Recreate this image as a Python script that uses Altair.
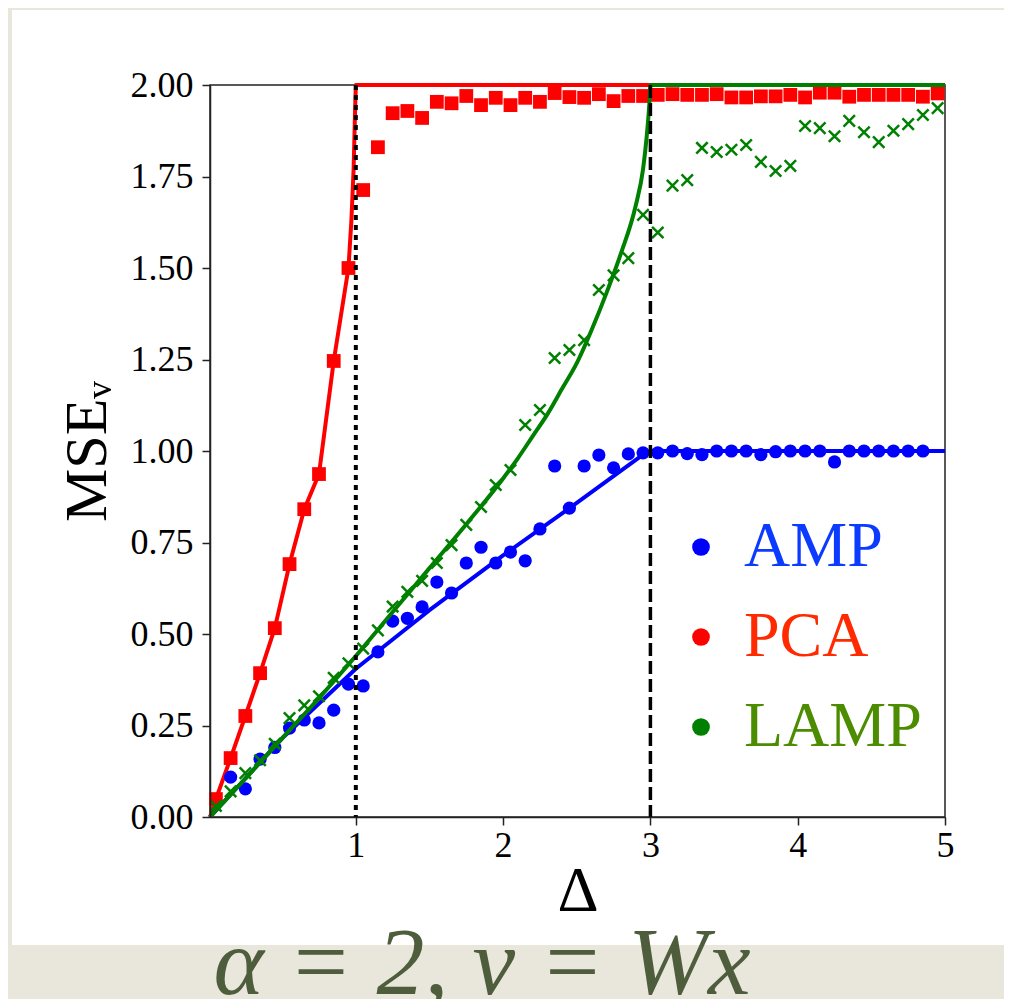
import altair as alt
import pandas as pd

# ---------------- data ----------------
delta = [0.05, 0.15, 0.25, 0.35, 0.45, 0.55, 0.65, 0.75, 0.85, 0.95,
         1.05, 1.15, 1.25, 1.35, 1.45, 1.55, 1.65, 1.75, 1.85, 1.95,
         2.05, 2.15, 2.25, 2.35, 2.45, 2.55, 2.65, 2.75, 2.85, 2.95,
         3.05, 3.15, 3.25, 3.35, 3.45, 3.55, 3.65, 3.75, 3.85, 3.95,
         4.05, 4.15, 4.25, 4.35, 4.45, 4.55, 4.65, 4.75, 4.85, 4.95]

pca_mse = [0.049, 0.161, 0.276, 0.393, 0.516, 0.691, 0.841, 0.937, 1.246, 1.50,
           1.713, 1.83, 1.923, 1.929, 1.91, 1.954, 1.95, 1.97, 1.945, 1.965,
           1.945, 1.965, 1.954, 1.978, 1.967, 1.965, 1.975, 1.956, 1.97, 1.97,
           1.973, 1.975, 1.973, 1.973, 1.975, 1.966, 1.966, 1.969, 1.969, 1.973,
           1.966, 1.979, 1.979, 1.968, 1.973, 1.973, 1.973, 1.973, 1.968, 1.977]

amp_delta = delta[1:49]
amp_mse = [0.109, 0.077, 0.158, 0.19, 0.243, 0.265, 0.257, 0.292, 0.363,
           0.358, 0.451, 0.535, 0.543, 0.574, 0.642, 0.612, 0.694, 0.737, 0.694,
           0.724, 0.70, 0.787, 0.959, 0.844, 0.959, 0.989, 0.954, 0.992, 0.995,
           0.995, 1.0, 0.993, 0.99, 1.0, 1.0, 1.0, 0.99, 0.998, 1.0,
           1.0, 1.0, 0.97, 1.0, 1.0, 1.0, 1.0, 1.0, 1.0]

lamp_mse = [0.03, 0.07, 0.12, 0.155, 0.2, 0.27, 0.305, 0.33, 0.38, 0.42,
            0.46, 0.51, 0.575, 0.615, 0.645, 0.694, 0.743, 0.798, 0.847, 0.907,
            0.948, 1.071, 1.112, 1.254, 1.276, 1.303, 1.44, 1.48, 1.527, 1.645,
            1.597, 1.725, 1.74, 1.828, 1.817, 1.823, 1.836, 1.79, 1.765, 1.779,
            1.888, 1.882, 1.86, 1.902, 1.871, 1.844, 1.875, 1.893, 1.918, 1.937]

# theory curves
pca_th_delta = [0.01, 0.05, 0.15, 0.25, 0.35, 0.45, 0.55, 0.65, 0.75, 0.85, 0.95,
                0.97, 0.985, 0.995, 1.0, 5.0]
pca_th_mse = [0.0, 0.049, 0.161, 0.276, 0.393, 0.516, 0.691, 0.841, 0.937, 1.246, 1.50,
              1.63, 1.77, 1.93, 2.0, 2.0]

amp_th_delta = [0.01, 0.5, 1.0, 1.5, 2.0, 2.5, 2.95, 3.0, 5.0]
amp_th_mse = [0.0, 0.215, 0.405, 0.565, 0.715, 0.858, 0.99, 1.0, 1.0]

lamp_th_delta = [0.01, 0.25, 0.5, 0.75, 1.0, 1.25, 1.5, 1.75, 2.0, 2.1, 2.2, 2.3, 2.4, 2.5,
                 2.6, 2.7, 2.8, 2.9, 2.95, 2.975, 2.993, 3.0, 5.0]
lamp_th_mse = [0.0, 0.105, 0.215, 0.325, 0.44, 0.56, 0.68, 0.80, 0.925, 0.98, 1.04, 1.10, 1.17, 1.24,
               1.33, 1.43, 1.54, 1.67, 1.77, 1.86, 1.95, 2.0, 2.0]

methods = ["AMP", "PCA", "LAMP"]
method_colors = ["#0000ff", "#ff0000", "#008000"]
legend_text_colors = ["#0b3bff", "#ff2a00", "#4c8c00"]

dotted_delta = [1]
dashed_delta = [3]
x_ticks = [1, 2, 3, 4, 5]
y_ticks = [0.0, 0.25, 0.5, 0.75, 1.0, 1.25, 1.5, 1.75, 2.0]
caption = "α = 2, v = Wx"
x_title = "Δ"
y_title = "MSEᵥ"

# ---------------- chart ----------------
W, H = 735, 732
serif = "Liberation Serif"

axis_common = dict(zindex=1, grid=False,
                   domainColor="#222222", domainWidth=1.5,
                   tickColor="#222222", tickWidth=1.5, tickSize=8,
                   labelFont=serif, labelFontSize=36, labelColor="#000000",
                   titleFont=serif, titleColor="#000000", titleFontWeight="normal")

x_enc = alt.X("delta:Q",
              scale=alt.Scale(domain=[0.01, 5], nice=False, zero=False),
              axis=alt.Axis(values=x_ticks, format="d", title=x_title, titleFontSize=64,
                            labelPadding=3, titlePadding=-4, labelFlush=False, **axis_common))
y_enc = alt.Y("mse:Q",
              scale=alt.Scale(domain=[0, 2], nice=False, zero=False),
              axis=alt.Axis(values=y_ticks, format=".2f", title=y_title, titleFontSize=60,
                            labelPadding=9, titlePadding=12, **axis_common))

one = pd.DataFrame({"k": [0]})

panel = alt.Chart(one).mark_rect(color="white").encode(
    x=alt.value(-198), x2=alt.value(800), y=alt.value(-75), y2=alt.value(860))

frame = alt.Chart(one).mark_rect(fillOpacity=0, stroke="#222222", strokeWidth=1.5).encode(
    x=alt.value(0), x2=alt.value(W), y=alt.value(0), y2=alt.value(H))

pca_df = pd.DataFrame({"delta": delta, "mse": pca_mse})
amp_df = pd.DataFrame({"delta": amp_delta, "mse": amp_mse, "method": ["AMP"] * len(amp_delta)})
lamp_df = pd.DataFrame({"delta": delta, "mse": lamp_mse})
pca_th = pd.DataFrame({"delta": pca_th_delta, "mse": pca_th_mse})
amp_th = pd.DataFrame({"delta": amp_th_delta, "mse": amp_th_mse})
lamp_th = pd.DataFrame({"delta": lamp_th_delta, "mse": lamp_th_mse})

pca_line = alt.Chart(pca_th).mark_line(color=method_colors[1], strokeWidth=4,
                                       strokeJoin="round").encode(x=x_enc, y=y_enc)
pca_pts = alt.Chart(pca_df).mark_point(shape="square", filled=True, size=190, opacity=1,
                                       color=method_colors[1]).encode(x=x_enc, y=y_enc)

label_expr = ("datum.label === '%s' ? '%s' : datum.label === '%s' ? '%s' : '%s'"
              % (methods[0], legend_text_colors[0], methods[1], legend_text_colors[1], legend_text_colors[2]))

amp_line = alt.Chart(amp_th).mark_line(color=method_colors[0], strokeWidth=4, strokeJoin="round").encode(x=x_enc, y=y_enc)
amp_pts = alt.Chart(amp_df).mark_circle(size=175, opacity=1).encode(
    x=x_enc, y=y_enc,
    color=alt.Color("method:N",
                    scale=alt.Scale(domain=methods, range=method_colors),
                    legend=alt.Legend(title=None, orient="none", legendX=459, legendY=430,
                                      direction="vertical", symbolType="circle", symbolSize=314,
                                      symbolStrokeWidth=0,
                                      labelFont=serif, labelFontSize=64,
                                      labelColor=alt.ExprRef(expr=label_expr),
                                      labelOffset=11, rowPadding=26, padding=0, labelLimit=0)))

cross_path = "M-1,-1L1,1M-1,1L1,-1"
lamp_pts = alt.Chart(lamp_df).mark_point(shape=cross_path, size=130, strokeWidth=2.5, opacity=1,
                                         color=method_colors[2]).encode(x=x_enc, y=y_enc)
lamp_line = alt.Chart(lamp_th).mark_line(color=method_colors[2], strokeWidth=4, strokeJoin="round",
                                         interpolate="monotone").encode(x=x_enc, y=y_enc)

dotted = alt.Chart(pd.DataFrame({"delta": dotted_delta})).mark_rule(
    color="black", strokeWidth=4, strokeDash=[5, 5]).encode(x=alt.X("delta:Q"))
dashed = alt.Chart(pd.DataFrame({"delta": dashed_delta})).mark_rule(
    color="black", strokeWidth=3.5, strokeDash=[13, 5]).encode(x=alt.X("delta:Q"))

cap = alt.Chart(pd.DataFrame({"t": [caption]})).mark_text(
    font=serif, fontStyle="italic", fontSize=96, color="#4e5d3c",
    align="center", baseline="alphabetic").encode(
    x=alt.value(272), y=alt.value(909), text="t:N")

chart = alt.layer(
    panel, frame, pca_line, pca_pts, amp_line, amp_pts, lamp_pts, lamp_line, dotted, dashed, cap
).properties(
    width=W, height=H,
    padding={"left": 202, "top": 77, "right": 59, "bottom": 182},
    autosize=alt.AutoSizeParams(type="none"),
).configure(
    background="#e9e6dc"
).configure_view(
    stroke="transparent"
)

chart.save("out.html", embed_options={"renderer": "svg", "actions": False})
